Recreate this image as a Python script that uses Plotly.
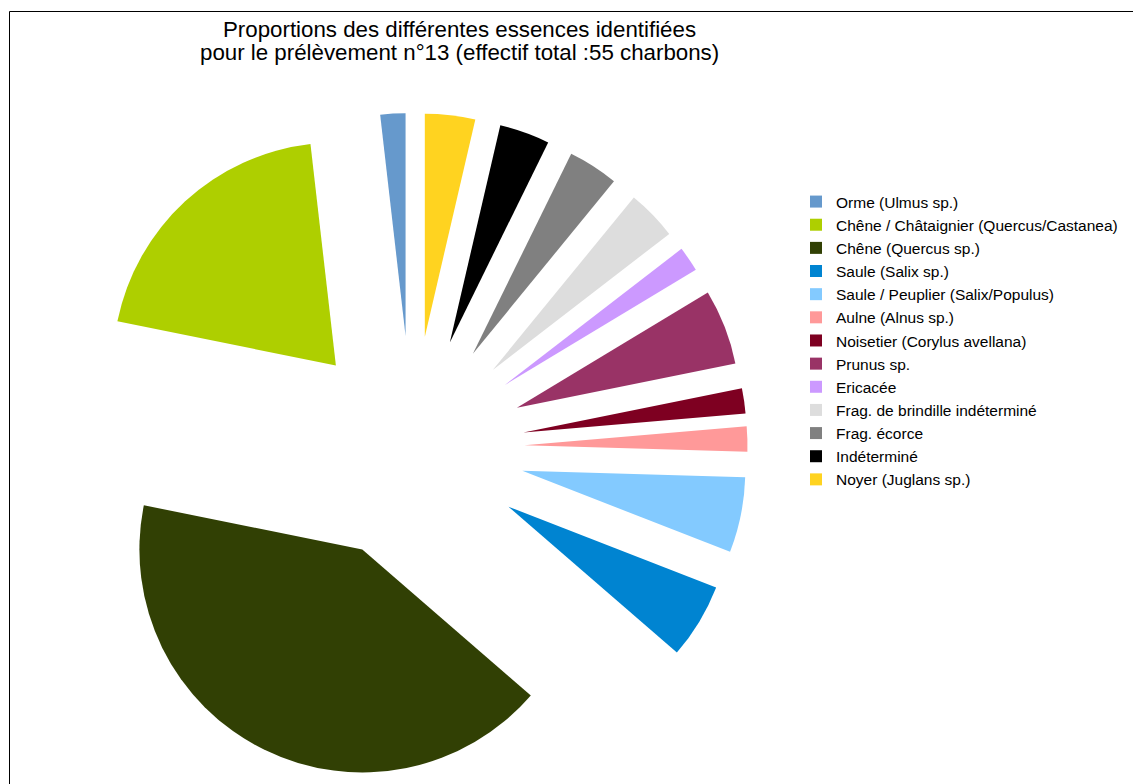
import plotly.graph_objects as go

# Charcoal identifications for sample no. 13 (55 fragments in total)
species = [
    "Orme (Ulmus sp.)",
    "Chêne / Châtaignier (Quercus/Castanea)",
    "Chêne (Quercus sp.)",
    "Saule (Salix sp.)",
    "Saule / Peuplier (Salix/Populus)",
    "Aulne (Alnus sp.)",
    "Noisetier (Corylus avellana)",
    "Prunus sp.",
    "Ericacée",
    "Frag. de brindille indéterminé",
    "Frag. écorce",
    "Indéterminé",
    "Noyer (Juglans sp.)",
]
counts = [1, 11, 23, 3, 3, 1, 1, 3, 1, 2, 2, 2, 2]
colors = [
    "#6699cc", "#aecf00", "#314004", "#0084d1", "#83caff", "#ff9999",
    "#7e0021", "#993366", "#cc99ff", "#dddddd", "#808080", "#000000",
    "#ffd320",
]
title_lines = [
    "Proportions des différentes essences identifiées",
    "pour le prélèvement n°13 (effectif total :55 charbons)",
]

W, H = 1133, 784
FONT = "Liberation Sans, Arial, sans-serif"


def px_x(x):
    return x / W


def px_y(y):
    return 1 - y / H


# square pie box: centre (412, 448.5), side 671 px
cx, side = 412.0, 671.0

# plotly places the first slice clockwise of 12 o'clock when going
# counterclockwise; turn it back so the first slice starts at 12 o'clock
first_share = 360.0 * counts[0] / sum(counts)

fig = go.Figure(
    go.Pie(
        labels=species,
        values=counts,
        sort=False,
        direction="counterclockwise",
        rotation=-first_share,
        pull=0.505,
        marker=dict(colors=colors, line=dict(width=0)),
        textinfo="none",
        hoverinfo="label+value+percent",
        domain=dict(
            x=[px_x(cx - side / 2), px_x(cx + side / 2)],
            y=[0, side / H],
        ),
    )
)

annotations = []
for text, yc in zip(title_lines, [29.5, 52.2]):
    annotations.append(
        dict(
            text=text,
            xref="paper", yref="paper",
            x=px_x(459), y=px_y(yc),
            xanchor="center", yanchor="middle",
            showarrow=False,
            font=dict(family=FONT, size=22.3, color="#000000"),
        )
    )

shapes = [
    dict(type="line", xref="paper", yref="paper",
         x0=px_x(9.5), x1=1.0, y0=px_y(11.5), y1=px_y(11.5),
         line=dict(color="#000000", width=1)),
    dict(type="line", xref="paper", yref="paper",
         x0=px_x(9.5), x1=px_x(9.5), y0=0, y1=px_y(11.5),
         line=dict(color="#000000", width=1)),
]

fig.update_layout(
    width=W,
    height=H,
    margin=dict(l=0, r=0, t=0, b=0, pad=0, autoexpand=False),
    paper_bgcolor="#ffffff",
    plot_bgcolor="#ffffff",
    showlegend=True,
    legend=dict(
        x=px_x(796), y=px_y(185),
        xanchor="left", yanchor="top",
        font=dict(family=FONT, size=15.5, color="#000000"),
        bgcolor="rgba(0,0,0,0)",
        traceorder="normal",
    ),
    annotations=annotations,
    shapes=shapes,
)

fig.write_html("out.html")
